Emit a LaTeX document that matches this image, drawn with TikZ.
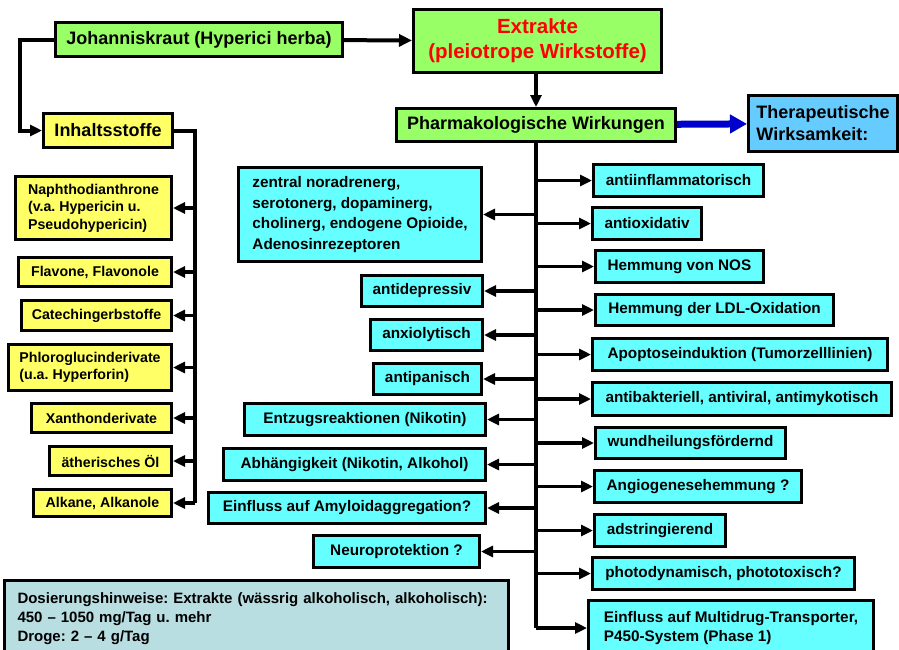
\documentclass[tikz,border=0pt]{standalone}
\usepackage{fontspec}
\setmainfont{Liberation Sans}
\usepackage{xcolor}
\usetikzlibrary{arrows.meta,positioning}
\definecolor{grbox}{HTML}{99FF66}
\definecolor{yebox}{HTML}{FFFF66}
\definecolor{cybox}{HTML}{66FFFF}
\definecolor{blbox}{HTML}{66CCFF}
\definecolor{dobox}{HTML}{B9DEE1}
\definecolor{blarrow}{HTML}{0000CC}
\frenchspacing

\begin{document}
\begin{tikzpicture}[x=1pt,y=-1pt]
	\tikzstyle{box} = [draw = black, line width = 3pt, inner sep = 2pt]
	\tikzstyle{gbox} = [box, fill = grbox, font = \fontsize{18}{22}\selectfont\bfseries]
	\tikzstyle{tbox} = [box, fill = blbox, font = \fontsize{18}{22}\selectfont\bfseries, align = left]
	\tikzstyle{ybox} = [box, fill = yebox, font = \fontsize{14.2}{17.5}\selectfont\bfseries, align = left]
	\tikzstyle{cbox} = [box, fill = cybox, font = \fontsize{15.3}{19}\selectfont\bfseries, align = left]
	\tikzstyle{arr} = [draw, line width = 3.2pt, -{Triangle[length=12pt,width=11pt]}]
	\tikzstyle{trunk} = [draw, line width = 4pt]
	\useasboundingbox (0,0) rectangle (899,649);
	\clip (0,0) rectangle (899,649);
% top row
\node[gbox, minimum width = 287pt, minimum height = 34pt] (johann) at (199,39.5) {Johanniskraut (Hyperici herba)};
\node[gbox, text = red, align = center, font = \fontsize{20.5}{25}\selectfont\bfseries, minimum width = 248pt, minimum height = 63pt] (extr) at (537.5,41) {Extrakte\\(pleiotrope Wirkstoffe)};
\node[gbox, minimum width = 279pt, minimum height = 33pt] (pharm) at (536,125) {Pharmakologische Wirkungen};
\node[tbox, minimum width = 149pt, minimum height = 56pt] (thera) at (823,123.5) {Therapeutische\\Wirksamkeit:};
\node[ybox, font = \fontsize{18}{22}\selectfont\bfseries, minimum width = 129pt, minimum height = 34pt] (inhalt) at (108,130.5) {Inhaltsstoffe};
% Inhaltsstoffe
\node[ybox, minimum width = 156pt, minimum height = 63pt] (naph) at (93.5,208) {Naphthodianthrone\\(v.a. Hypericin u.\\Pseudohypericin)};
\node[ybox, minimum width = 153pt, minimum height = 29pt] (flav) at (95,272) {Flavone, Flavonole};
\node[ybox, minimum width = 150pt, minimum height = 30pt] (catech) at (96.5,315.5) {Catechingerbstoffe};
\node[ybox, minimum width = 163pt, minimum height = 46pt] (phloro) at (90,367.5) {Phloroglucinderivate\\(u.a. Hyperforin)};
\node[ybox, minimum width = 140pt, minimum height = 29pt] (xanth) at (101.5,418) {Xanthonderivate};
\node[ybox, minimum width = 122pt, minimum height = 29pt] (aeth) at (110.5,461) {ätherisches Öl};
\node[ybox, minimum width = 138pt, minimum height = 27pt] (alk) at (102.5,503) {Alkane, Alkanole};
% Wirkungen links
\node[cbox, font = \fontsize{15.3}{20.5}\selectfont\bfseries, minimum width = 243pt, minimum height = 94pt] (zentral) at (360,214.5) {zentral noradrenerg,\\serotonerg, dopaminerg,\\cholinerg, endogene Opioide,\\Adenosinrezeptoren};
\node[cbox, minimum width = 121pt, minimum height = 31pt] (antidep) at (422,291) {antidepressiv};
\node[cbox, minimum width = 112pt, minimum height = 31pt] (anxio) at (426.5,335) {anxiolytisch};
\node[cbox, minimum width = 108pt, minimum height = 31pt] (antipan) at (427.5,379) {antipanisch};
\node[cbox, minimum width = 241pt, minimum height = 32pt] (entzug) at (365,419.5) {Entzugsreaktionen (Nikotin)};
\node[cbox, minimum width = 262pt, minimum height = 32pt] (abh) at (354.5,464.5) {Abhängigkeit (Nikotin, Alkohol)};
\node[cbox, minimum width = 277pt, minimum height = 31pt] (amyl) at (347,508) {Einfluss auf Amyloidaggregation?};
\node[cbox, minimum width = 166pt, minimum height = 32pt] (neuro) at (396.5,551.5) {Neuroprotektion ?};
% Wirkungen rechts
\node[cbox, minimum width = 170pt, minimum height = 32pt] (antiinfl) at (678.5,180.5) {antiinflammatorisch};
\node[cbox, minimum width = 109pt, minimum height = 32pt] (antiox) at (647,223.5) {antioxidativ};
\node[cbox, minimum width = 168pt, minimum height = 32pt] (nos) at (679.5,266.5) {Hemmung von NOS};
\node[cbox, minimum width = 238pt, minimum height = 31pt] (ldl) at (714.5,310) {Hemmung der LDL-Oxidation};
\node[cbox, minimum width = 295pt, minimum height = 32pt] (apop) at (740,354.5) {Apoptoseinduktion (Tumorzelllinien)};
\node[cbox, minimum width = 299pt, minimum height = 33pt] (antibak) at (742,399) {antibakteriell, antiviral, antimykotisch};
\node[cbox, minimum width = 190pt, minimum height = 31pt] (wund) at (690.5,443) {wundheilungsfördernd};
\node[cbox, minimum width = 207pt, minimum height = 32pt] (angio) at (698,486.5) {Angiogenesehemmung ?};
\node[cbox, minimum width = 131pt, minimum height = 32pt] (adstr) at (660,530.5) {adstringierend};
\node[cbox, minimum width = 262pt, minimum height = 32pt] (photo) at (723.5,573.5) {photodynamisch, phototoxisch?};
\node[cbox, minimum width = 285pt, minimum height = 55pt] (multi) at (731,628) {Einfluss auf Multidrug-Transporter,\\P450-System (Phase 1)};
% Dosierung
\node[box, fill = dobox, font = \fontsize{15}{19}\selectfont\bfseries, align = left, text width = 478pt, inner xsep = 13pt, minimum height = 77pt] (dos) at (256.5,619) {Dosierungshinweise: Extrakte (wässrig alkoholisch, alkoholisch):\\450 – 1050 mg/Tag u. mehr\\Droge: 2 – 4 g/Tag};
% connectors
\coordinate (jcorner) at (20,39.5);
\coordinate (lbus) at (195,130.5);
\coordinate (lend) at (195,503);
\coordinate (rend) at (536,628);
	\path[arr, line width = 4pt, -{Triangle[length=13pt,width=12pt]}] (johann) -- (extr);
	\path[arr, line width = 3.5pt] (extr.south -| pharm.north) -- (pharm.north);
	\path[draw = blarrow, line width = 7pt, -{Triangle[length=17pt,width=18pt]}] (pharm) -- (thera);
	\path[arr, line width = 4pt, -{Triangle[length=12pt,width=11pt]}] (johann.west) -- (jcorner) |- (inhalt.west);
	\path[trunk] (inhalt.east) -- (lbus) -- (lend);
	\path[trunk] (pharm.south) -- (rend);
	\foreach \n in {naph, flav, catech, phloro, xanth, aeth, alk}
		\path[arr] (lbus |- \n.east) -- (\n.east);
	\foreach \n in {zentral, antidep, anxio, antipan, entzug, abh, amyl, neuro}
		\path[arr] (rend |- \n.east) -- (\n.east);
	\foreach \n in {antiinfl, antiox, nos, ldl, apop, antibak, wund, angio, adstr, photo, multi}
		\path[arr] (rend |- \n.west) -- (\n.west);
\end{tikzpicture}
\end{document}
